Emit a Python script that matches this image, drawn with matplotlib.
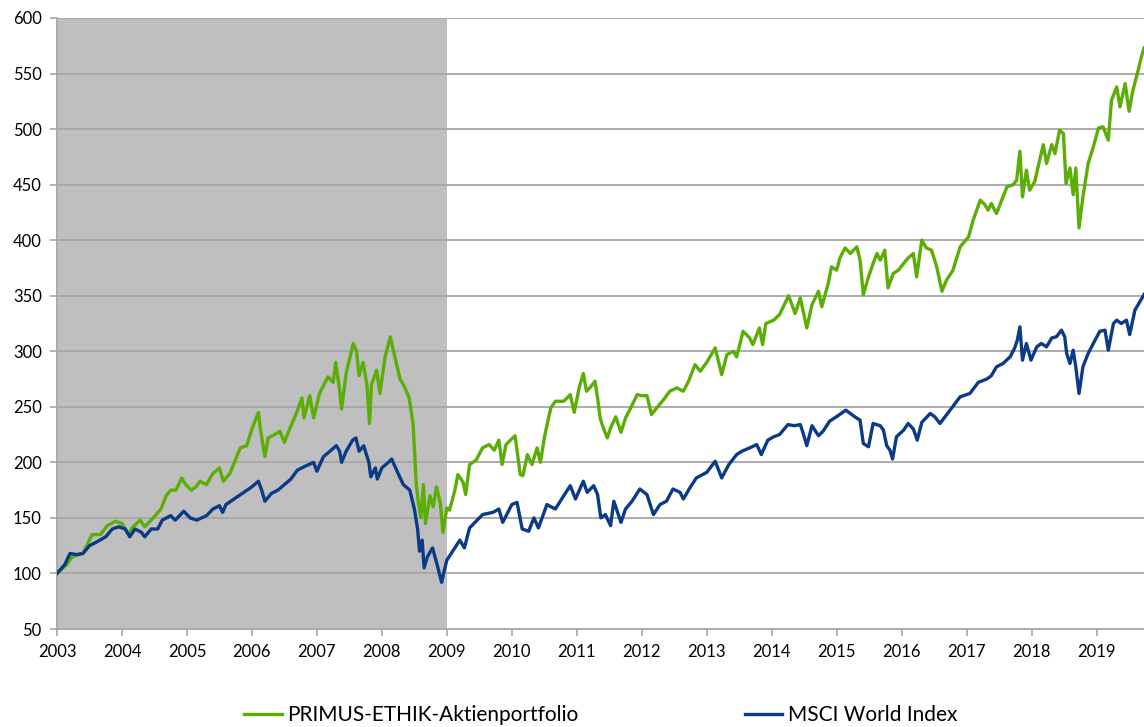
import matplotlib
matplotlib.use("Agg")
import matplotlib.pyplot as plt

plt.rcParams['font.family'] = ['Lato', 'DejaVu Sans']

# ---- data (decimal years, index values) ----
primus_t = [2003.0, 2003.15, 2003.23, 2003.4, 2003.54, 2003.67, 2003.77, 2003.9, 2004.0, 2004.1,
            2004.17, 2004.28, 2004.35, 2004.48, 2004.6, 2004.68, 2004.75, 2004.83, 2004.92, 2004.98,
            2005.07, 2005.14, 2005.2, 2005.3, 2005.4, 2005.5, 2005.56, 2005.66, 2005.73, 2005.82,
            2005.92, 2006.0, 2006.1, 2006.13, 2006.2, 2006.25, 2006.35, 2006.43, 2006.5, 2006.58,
            2006.69, 2006.77, 2006.8, 2006.89, 2006.95, 2007.04, 2007.17, 2007.25, 2007.29, 2007.35,
            2007.38, 2007.45, 2007.56, 2007.61, 2007.65, 2007.71, 2007.77, 2007.81, 2007.84, 2007.92,
            2007.97, 2008.05, 2008.13, 2008.2, 2008.28, 2008.35, 2008.42, 2008.48, 2008.53, 2008.56,
            2008.6, 2008.64, 2008.67, 2008.74, 2008.79, 2008.84, 2008.9, 2008.94, 2009.0, 2009.04,
            2009.12, 2009.17, 2009.25, 2009.29, 2009.35, 2009.45, 2009.55, 2009.65, 2009.73, 2009.8,
            2009.85, 2009.91, 2010.05, 2010.13, 2010.17, 2010.24, 2010.31, 2010.39, 2010.44, 2010.51,
            2010.6, 2010.67, 2010.8, 2010.9, 2010.96, 2011.04, 2011.1, 2011.15, 2011.2, 2011.28,
            2011.32, 2011.36, 2011.39, 2011.47, 2011.52, 2011.6, 2011.68, 2011.75, 2011.83, 2011.93,
            2012.0, 2012.08, 2012.15, 2012.23, 2012.33, 2012.43, 2012.54, 2012.64, 2012.72, 2012.82,
            2012.9, 2013.0, 2013.13, 2013.23, 2013.31, 2013.41, 2013.46, 2013.56, 2013.66, 2013.71,
            2013.81, 2013.86, 2013.91, 2014.03, 2014.12, 2014.26, 2014.36, 2014.44, 2014.54, 2014.62,
            2014.72, 2014.77, 2014.87, 2014.92, 2015.0, 2015.05, 2015.13, 2015.21, 2015.31, 2015.36,
            2015.41, 2015.49, 2015.56, 2015.62, 2015.67, 2015.74, 2015.79, 2015.87, 2015.95, 2016.03,
            2016.1, 2016.18, 2016.23, 2016.31, 2016.38, 2016.46, 2016.54, 2016.62, 2016.69, 2016.79,
            2016.9, 2017.03, 2017.1, 2017.21, 2017.28, 2017.33, 2017.38, 2017.46, 2017.56, 2017.62,
            2017.72, 2017.77, 2017.82, 2017.86, 2017.92, 2017.97, 2018.05, 2018.1, 2018.18, 2018.23,
            2018.31, 2018.36, 2018.43, 2018.49, 2018.53, 2018.59, 2018.64, 2018.68, 2018.73, 2018.79,
            2018.87, 2018.95, 2019.03, 2019.1, 2019.18, 2019.23, 2019.31, 2019.36, 2019.44, 2019.5,
            2019.56, 2019.64, 2019.69, 2019.73]
primus_v = [100, 108, 115, 118, 135, 135, 143, 147, 145, 135,
            142, 148, 142, 150, 158, 170, 175, 175, 186, 180,
            175, 178, 183, 180, 190, 195, 183, 190, 200, 213,
            215, 230, 245, 230, 205, 222, 225, 228, 218, 230,
            245, 258, 240, 260, 240, 262, 277, 272, 290, 265,
            248, 280, 307, 300, 278, 290, 270, 235, 270, 283,
            262, 295, 313, 295, 275, 268, 258, 235, 180, 165,
            150, 180, 145, 170, 160, 178, 163, 137, 159, 157,
            174, 189, 182, 171, 198, 202, 213, 216, 211, 220,
            198, 216, 224, 189, 188, 207, 198, 213, 200, 225,
            249, 255, 255, 261, 245, 268, 280, 264, 267, 273,
            258, 240, 234, 222, 231, 241, 227, 240, 249, 261,
            260, 260, 243, 249, 256, 264, 267, 264, 273, 288,
            282, 290, 303, 279, 297, 300, 295, 318, 312, 306,
            321, 306, 325, 328, 333, 350, 334, 348, 321, 342,
            354, 340, 361, 376, 373, 384, 393, 388, 394, 382,
            351, 367, 379, 388, 382, 391, 357, 370, 373, 379,
            384, 388, 367, 400, 393, 391, 376, 354, 364, 373,
            394, 403, 418, 436, 432, 427, 433, 424, 439, 448,
            450, 454, 480, 439, 463, 445, 453, 466, 486, 469,
            486, 478, 499, 496, 451, 465, 441, 465, 411, 439,
            469, 484, 501, 502, 490, 526, 538, 520, 541, 516,
            535, 553, 565, 573]

msci_t = [2003.0, 2003.12, 2003.2, 2003.3, 2003.4, 2003.5, 2003.6, 2003.75, 2003.85, 2003.95,
          2004.05, 2004.12, 2004.2, 2004.3, 2004.35, 2004.45, 2004.55, 2004.62, 2004.75, 2004.82,
          2004.95, 2005.05, 2005.15, 2005.3, 2005.4, 2005.5, 2005.55, 2005.6, 2005.75, 2005.85,
          2006.0, 2006.1, 2006.15, 2006.2, 2006.3, 2006.4, 2006.5, 2006.6, 2006.7, 2006.8,
          2006.95, 2007.0, 2007.1, 2007.2, 2007.3, 2007.35, 2007.38, 2007.45, 2007.55, 2007.6,
          2007.65, 2007.72, 2007.8, 2007.83, 2007.9, 2007.93, 2008.0, 2008.1, 2008.15, 2008.25,
          2008.33, 2008.43, 2008.5, 2008.55, 2008.58, 2008.62, 2008.65, 2008.7, 2008.78, 2008.85,
          2008.92, 2008.97, 2009.0, 2009.09, 2009.2, 2009.27, 2009.35, 2009.45, 2009.55, 2009.71,
          2009.8, 2009.86, 2010.0, 2010.08, 2010.16, 2010.26, 2010.34, 2010.41, 2010.54, 2010.67,
          2010.8, 2010.9, 2010.98, 2011.1, 2011.16, 2011.26, 2011.32, 2011.37, 2011.44, 2011.52,
          2011.57, 2011.68, 2011.75, 2011.85, 2011.97, 2012.08, 2012.18, 2012.28, 2012.38, 2012.48,
          2012.59, 2012.64, 2012.74, 2012.84, 2013.0, 2013.13, 2013.23, 2013.34, 2013.46, 2013.54,
          2013.66, 2013.77, 2013.84, 2013.94, 2014.03, 2014.12, 2014.25, 2014.35, 2014.44, 2014.48,
          2014.54, 2014.62, 2014.72, 2014.79, 2014.89, 2015.02, 2015.14, 2015.21, 2015.28, 2015.36,
          2015.41, 2015.49, 2015.56, 2015.67, 2015.72, 2015.77, 2015.82, 2015.86, 2015.92, 2016.03,
          2016.1, 2016.18, 2016.24, 2016.31, 2016.44, 2016.51, 2016.59, 2016.72, 2016.9, 2017.05,
          2017.18, 2017.31, 2017.38, 2017.46, 2017.56, 2017.67, 2017.74, 2017.78, 2017.82, 2017.86,
          2017.92, 2017.99, 2018.08, 2018.15, 2018.23, 2018.31, 2018.38, 2018.46, 2018.51, 2018.54,
          2018.59, 2018.64, 2018.68, 2018.73, 2018.79, 2018.87, 2018.95, 2019.05, 2019.13, 2019.18,
          2019.26, 2019.31, 2019.38, 2019.46, 2019.51, 2019.59, 2019.67, 2019.73]
msci_v = [100, 108, 118, 117, 118, 125, 128, 133, 140, 142,
          140, 133, 140, 137, 133, 140, 140, 148, 152, 148,
          156, 150, 148, 152, 158, 161, 155, 162, 168, 172,
          178, 183, 175, 165, 172, 175, 180, 185, 193, 196,
          200, 192, 205, 210, 215, 210, 200, 210, 220, 222,
          210, 215, 200, 187, 195, 185, 195, 200, 203, 190,
          180, 175, 158, 140, 120, 130, 105, 115, 123, 108,
          92, 105, 112, 120, 130, 123, 141, 147, 153, 155,
          158, 146, 162, 164, 140, 138, 150, 141, 162, 158,
          170, 179, 167, 183, 173, 179, 171, 150, 153, 143,
          165, 146, 158, 165, 176, 171, 153, 162, 165, 176,
          173, 167, 177, 186, 191, 201, 186, 198, 207, 210,
          213, 216, 207, 220, 223, 225, 234, 233, 234, 227,
          215, 233, 224, 228, 237, 242, 247, 244, 241, 238,
          217, 214, 235, 233, 229, 215, 211, 203, 223, 229,
          235, 230, 220, 236, 244, 241, 235, 245, 259, 262,
          272, 275, 278, 286, 289, 295, 303, 310, 322, 292,
          307, 292, 304, 307, 304, 312, 313, 319, 313, 298,
          289, 301, 286, 262, 286, 298, 307, 318, 319, 301,
          325, 328, 325, 328, 315, 337, 345, 351]

years = list(range(2003, 2020))
yticks = list(range(50, 601, 50))
shade_start, shade_end = 2003, 2009

green = '#5BAE05'
blue = '#0B3A86'
gridc = '#A6A6A6'

fig = plt.figure(figsize=(11.44, 7.27), dpi=100)
ax = fig.add_axes([57/1144, 1 - 629/727, 1 - 57/1144, (629 - 18)/727])

ax.axvspan(shade_start, shade_end, color='#BFBFBF', zorder=0, lw=0)
for y in yticks[1:]:
    ax.axhline(y, color=gridc, lw=1.3, zorder=1)

ax.plot(primus_t, primus_v, color=green, lw=2.4, zorder=3,
        label='PRIMUS-ETHIK-Aktienportfolio', solid_joinstyle='round')
ax.plot(msci_t, msci_v, color=blue, lw=2.4, zorder=4,
        label='MSCI World Index', solid_joinstyle='round')

ax.set_xlim(2003, 2019.73)
ax.set_ylim(50, 600)
ax.set_xticks(years)
ax.set_xticklabels([str(y) for y in years])
ax.set_yticks(yticks)
ax.set_yticklabels([str(y) for y in yticks])

for s in ['top', 'right']:
    ax.spines[s].set_visible(False)
for s in ['left', 'bottom']:
    ax.spines[s].set_color(gridc)
    ax.spines[s].set_linewidth(1.3)
ax.tick_params(axis='both', colors=gridc, length=5, width=1.2, labelsize=12,
               labelcolor='black', direction='out')
ax.tick_params(axis='x', pad=6)
ax.tick_params(axis='y', pad=6)

fig.legend(loc='center', bbox_to_anchor=(0.525, 0.016), ncol=2, frameon=False,
           fontsize=15, handlelength=1.8, handletextpad=0.25, columnspacing=8.0)

fig.savefig('out.png', dpi=100)
